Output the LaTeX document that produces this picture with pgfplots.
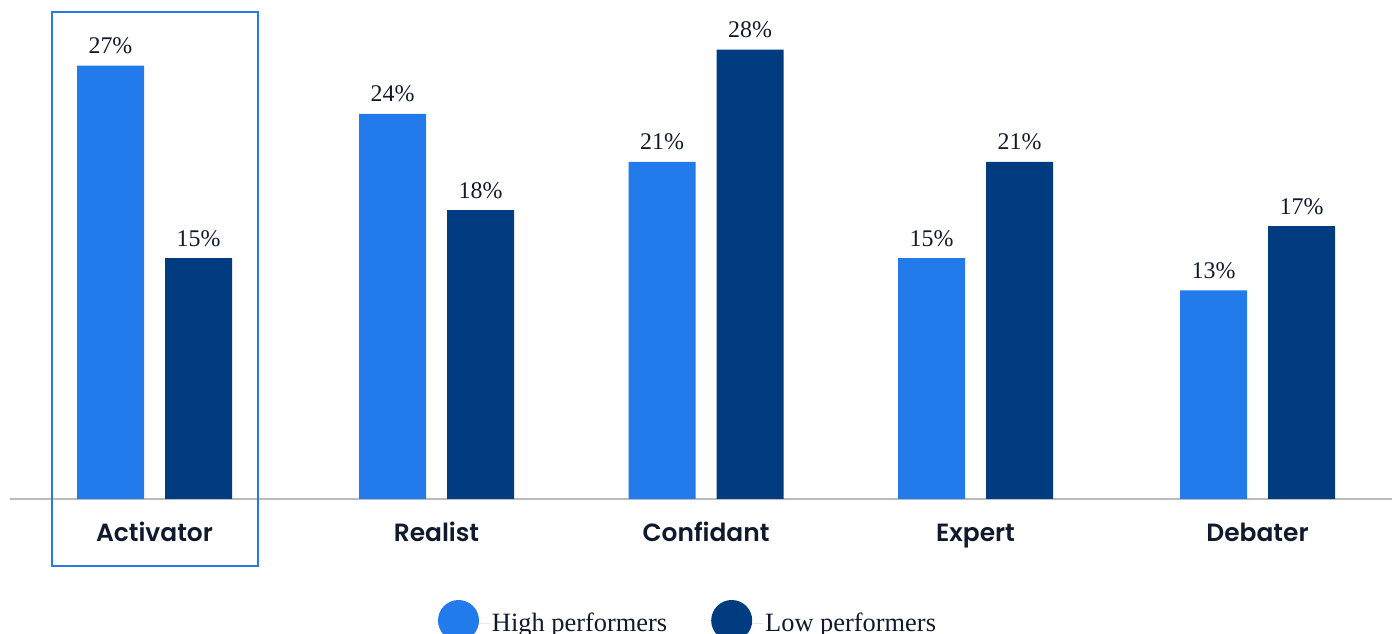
\documentclass[border=0pt]{standalone}
\usepackage{fontspec}
\setmainfont{Liberation Serif}
\newfontfamily\catfont{Poppins}[UprightFont={* SemiBold}]
\usepackage{pgfplots}
\pgfplotsset{compat=1.18}
\definecolor{hi}{HTML}{237BEB}
\definecolor{lo}{HTML}{003C7F}
\definecolor{txt}{HTML}{0F1A2C}
\definecolor{boxc}{HTML}{2A7BDE}
\definecolor{axisgray}{HTML}{BBBBBB}
\begin{document}
\begin{tikzpicture}[x=1bp,y=1bp]
\useasboundingbox (0,0) rectangle (1392,634);
\begin{axis}[
  at={(10bp,135bp)}, anchor=south west,
  scale only axis, width=1382bp, height=499bp,
  xmin=10, xmax=1392, ymin=0, ymax=31.09,
  axis x line=bottom, axis y line=none,
  x axis line style={axisgray, line width=2bp, -},
  xtick={154.5,436.5,706,975.5,1257.5},
  xticklabels={Activator,Realist,Confidant,Expert,Debater},
  major tick length=0pt, ytick=\empty,
  xticklabel style={font=\catfont\fontsize{25}{28}\selectfont, text=txt, anchor=base, yshift=-43bp},
  ybar, bar width=67bp,
  /pgf/number format/assume math mode=true,
  nodes near coords={\pgfmathprintnumber{\pgfplotspointmeta}\%},
  nodes near coords style={font=\fontsize{24}{28}\selectfont, text=txt, anchor=base, yshift=12bp},
  clip=false,
  legend columns=2,
  legend style={at={(axis cs:688,-7.57)}, anchor=center, draw=none, fill=none,
    font=\fontsize{26.5}{30}\selectfont, text=txt,
    /tikz/every even column/.append style={column sep=42bp}},
  legend image code/.code={\path (0bp,0bp) -- (52bp,0bp); \fill[#1] (20.5bp,2.5bp) circle (20.5bp);},
]
\addplot[fill=hi, draw=none, bar shift=-44bp] coordinates {(154.5,27) (436.5,24) (706,21) (975.5,15) (1257.5,13)};
\addlegendentry{High performers}
\addplot[fill=lo, draw=none, bar shift=44bp] coordinates {(154.5,15) (436.5,18) (706,28) (975.5,21) (1257.5,17)};
\addlegendentry{Low performers}
\end{axis}
\draw[boxc, line width=2.5bp] (52,68) rectangle (258,622);
\end{tikzpicture}
\end{document}
